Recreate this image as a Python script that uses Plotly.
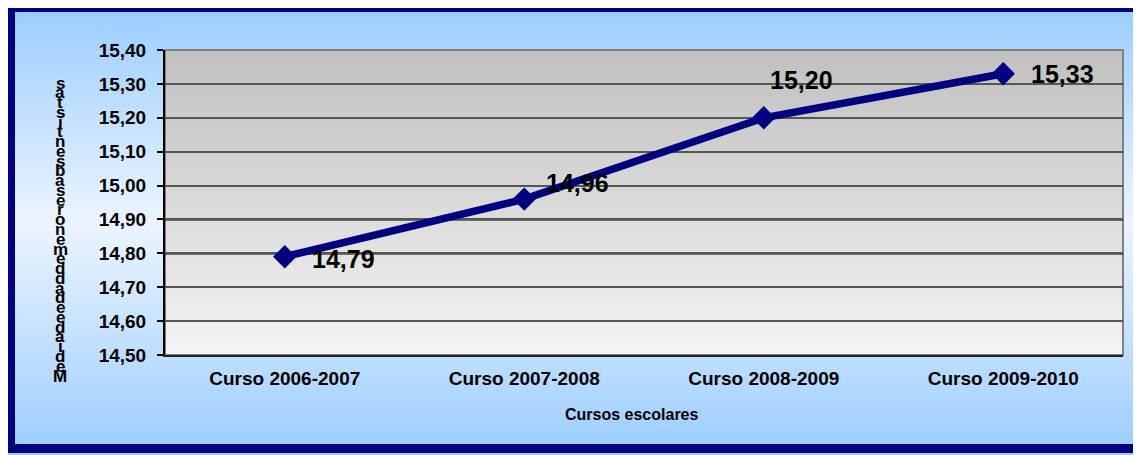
import plotly.graph_objects as go

# ---- data ----
categories = ["Curso 2006-2007", "Curso 2007-2008", "Curso 2008-2009", "Curso 2009-2010"]
values = [14.79, 14.96, 15.20, 15.33]
y_title = "Media de edad de menores absentistas"
x_title = "Cursos escolares"
dark_grid_values = [14.8, 14.9]
y_range = [14.5, 15.4]

# ---- geometry (figure pixels; page has an 8px body margin) ----
FW, FH = 1133, 447
L, R, T, B = 157, 1115, 42, 347
W, H = R - L, B - T


def pxx(px):
    return (px - L) / W


def pxy(py):
    return (B - py) / H


def lerp(c1, c2, t):
    return tuple(round(a + (b - a) * t) for a, b in zip(c1, c2))


def rgb(c):
    return "rgb(%d,%d,%d)" % c


FONT = "Liberation Sans, Arial, sans-serif"
shapes = []

# page background gradient (blue -> near white -> blue)
blue = (153, 204, 255)
pale = (236, 244, 255)
N = 70
for i in range(N):
    y0 = (FH + 10) * i / N - 5
    y1 = (FH + 10) * (i + 1) / N - 4
    t = (i + 0.5) / N
    if t < 0.48:
        c = lerp(blue, pale, t / 0.48)
    else:
        c = lerp(pale, blue, (t - 0.48) / 0.52)
    shapes.append(dict(type="rect", xref="paper", yref="paper", layer="below",
                       x0=pxx(-10), x1=pxx(FW + 10), y0=pxy(y1), y1=pxy(y0),
                       fillcolor=rgb(c), line=dict(width=0)))

# plot area gradient (gray -> light)
top_c = (192, 192, 192)
bot_c = (244, 244, 244)
M = 50
for i in range(M):
    c = lerp(top_c, bot_c, (i + 0.5) / M)
    shapes.append(dict(type="rect", xref="paper", yref="paper", layer="below",
                       x0=0, x1=1, y0=1 - (i + 1) / M - 0.002, y1=1 - i / M,
                       fillcolor=rgb(c), line=dict(width=0)))

# plot area border
shapes.append(dict(type="rect", xref="paper", yref="paper", layer="below",
                   x0=0, x1=1, y0=0, y1=1, fillcolor="rgba(0,0,0,0)",
                   line=dict(color="#808080", width=2)))

# darker gridlines
for gv in dark_grid_values:
    shapes.append(dict(type="line", xref="paper", yref="y", layer="below",
                       x0=0, x1=1, y0=gv, y1=gv, line=dict(color="black", width=2.2)))

# outer navy frame (right side runs off the page)
shapes.append(dict(type="rect", xref="paper", yref="paper", layer="above",
                   x0=pxx(2.5), x1=pxx(FW + 30), y0=pxy(440.5), y1=pxy(-0.5),
                   fillcolor="rgba(0,0,0,0)", line=dict(color="#000080", width=9)))

fig = go.Figure()
fig.add_trace(go.Scatter(
    x=categories, y=values, mode="lines+markers",
    line=dict(color="#000080", width=7.5),
    marker=dict(symbol="diamond", size=18, color="#000080"),
    hoverinfo="skip", showlegend=False,
))

annotations = []
label_shifts = [(59, -2), (53, 16), (38, 38), (59, 0)]
for cat, v, (dx, dy) in zip(categories, values, label_shifts):
    annotations.append(dict(x=cat, y=v, xref="x", yref="y",
                            text=("%.2f" % v).replace(".", ","),
                            showarrow=False, xshift=dx, yshift=dy,
                            font=dict(family=FONT, size=25, color="black", weight="bold")))

# stacked vertical y-axis title (characters stacked, read bottom to top)
chars = [ch for ch in y_title if ch != " "]
n = len(chars)
top_py, bot_py = 75, 368
for k, ch in enumerate(reversed(chars)):
    py = top_py + (bot_py - top_py) * k / (n - 1)
    annotations.append(dict(x=pxx(52), y=pxy(py), xref="paper", yref="paper",
                            text=ch, showarrow=False, xanchor="center", yanchor="middle",
                            font=dict(family=FONT, size=17, color="black", weight="bold")))

annotations.append(dict(x=pxx(624), y=pxy(406), xref="paper", yref="paper",
                        text=x_title, showarrow=False, xanchor="center", yanchor="middle",
                        font=dict(family=FONT, size=16, color="black", weight="bold")))

fig.update_layout(
    width=FW, height=FH,
    margin=dict(l=L, r=FW - R, t=T, b=FH - B, pad=0),
    paper_bgcolor="#99CCFF", plot_bgcolor="rgba(0,0,0,0)",
    separators=",.",
    shapes=shapes, annotations=annotations,
    xaxis=dict(type="category", range=[-0.5, len(categories) - 0.5],
               showgrid=False, zeroline=False, showline=True, linecolor="#202020", linewidth=2,
               ticks="", tickfont=dict(family=FONT, size=19, color="black", weight="bold"),
               ticklabelstandoff=5),
    yaxis=dict(range=y_range, dtick=0.1, tick0=14.5, tickformat=".2f",
               showgrid=True, gridcolor="#555555", gridwidth=1.5, zeroline=False,
               showline=True, linecolor="black", linewidth=2,
               ticks="outside", ticklen=6, tickwidth=2, tickcolor="black",
               ticklabelstandoff=7,
               tickfont=dict(family=FONT, size=19, color="black", weight="bold")),
    font=dict(family=FONT, color="black"),
)

fig.write_html("out.html")
